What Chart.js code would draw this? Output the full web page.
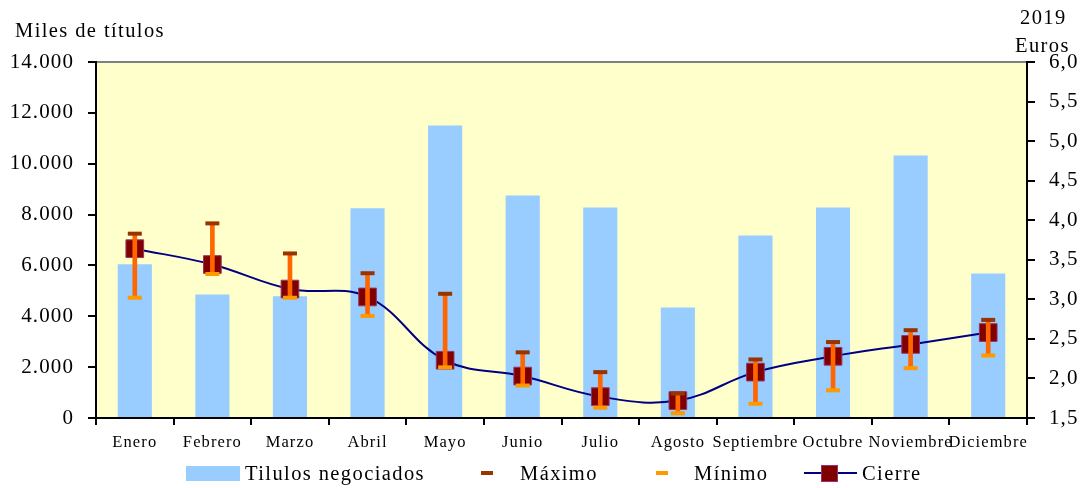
<!DOCTYPE html>
<html>
<head>
<meta charset="utf-8">
<script src="https://cdn.jsdelivr.net/npm/chart.js@4/dist/chart.umd.min.js"></script>
<style>
  html, body { margin: 0; padding: 0; background: #fff; }
  #wrap { position: relative; width: 1083px; height: 488px; }
  canvas { position: absolute; left: 0; top: 0; }
  .t { position: absolute; font-family: "Liberation Serif", "Times New Roman", serif; color: #000; font-size: 20.5px; line-height: 20px; letter-spacing: 1.4px; white-space: nowrap; }
  .sw { position: absolute; }
</style>
</head>
<body>
<div id="wrap">
  <canvas id="c" width="1083" height="488"></canvas>
  <div class="t" style="left:15px; top:20px;">Miles de títulos</div>
  <div class="t" style="left:1020px; top:7px;">2019</div>
  <div class="t" style="left:1015px; top:35px;">Euros</div>

  <div class="sw" style="left:186px; top:466px; width:54px; height:15px; background:#99CCFF;"></div>
  <div class="t" style="left:245px; top:463px;">Tilulos negociados</div>
  <div class="sw" style="left:481px; top:471px; width:12px; height:4px; background:#993300;"></div>
  <div class="t" style="left:520px; top:463px;">Máximo</div>
  <div class="sw" style="left:656px; top:471px; width:12px; height:4px; background:#FF9900;"></div>
  <div class="t" style="left:694px; top:463px;">Mínimo</div>
  <div class="sw" style="left:804px; top:472px; width:53px; height:2px; background:#000080;"></div>
  <div class="sw" style="left:821px; top:465px; width:17px; height:17px; background:#800000; border:1px solid #993366; box-sizing:border-box;"></div>
  <div class="t" style="left:862px; top:463px;">Cierre</div>
</div>
<script>
const categories = ['Enero','Febrero','Marzo','Abril','Mayo','Junio','Julio','Agosto','Septiembre','Octubre','Noviembre','Diciembre'];
const titulos = [6050, 4860, 4790, 8250, 11500, 8750, 8280, 4350, 7180, 8280, 10320, 5680];
const maximo = [3.83, 3.96, 3.58, 3.33, 3.07, 2.33, 2.08, 1.81, 2.24, 2.46, 2.61, 2.74];
const minimo = [3.02, 3.32, 3.02, 2.79, 2.14, 1.91, 1.63, 1.56, 1.68, 1.85, 2.13, 2.29];
const cierre = [3.64, 3.44, 3.13, 3.03, 2.23, 2.03, 1.77, 1.72, 2.08, 2.28, 2.43, 2.58];
const leftTicks = [0, 2000, 4000, 6000, 8000, 10000, 12000, 14000];
const rightTicks = [1.5, 2.0, 2.5, 3.0, 3.5, 4.0, 4.5, 5.0, 5.5, 6.0];

const rangos = minimo.map((m, i) => [m, maximo[i]]);

Chart.defaults.font.family = '"Liberation Serif", "Times New Roman", serif';
Chart.defaults.color = '#000';

const LS = '1.1px';
const spacing = {
  id: 'spacing',
  beforeUpdate(c) { c.ctx.letterSpacing = LS; },
  beforeLayout(c) { c.ctx.letterSpacing = LS; },
  beforeDraw(c) { c.ctx.letterSpacing = LS; }
};

const plotBg = {
  id: 'plotBg',
  beforeDraw(c) {
    const { ctx, chartArea: a } = c;
    ctx.save();
    ctx.fillStyle = '#FFFFCC';
    ctx.fillRect(a.left, a.top, a.right - a.left, a.bottom - a.top);
    ctx.strokeStyle = '#808080';
    ctx.lineWidth = 2;
    ctx.beginPath();
    ctx.moveTo(a.left, a.top);
    ctx.lineTo(a.right, a.top);
    ctx.stroke();
    ctx.restore();
  }
};

const fmtLeft = v => v === 0 ? '0' : Math.floor(v / 1000) + '.' + String(v % 1000).padStart(3, '0');
const fmtRight = v => v.toFixed(1).replace('.', ',');

new Chart(document.getElementById('c'), {
  data: {
    labels: categories,
    datasets: [
      {
        type: 'line', label: 'Máximo', data: maximo, yAxisID: 'y2', order: 0,
        showLine: false, pointStyle: 'line', pointRadius: 7, pointBorderWidth: 4,
        borderColor: '#993300', pointBorderColor: '#993300', backgroundColor: '#993300'
      },
      {
        type: 'line', label: 'Mínimo', data: minimo, yAxisID: 'y2', order: 0,
        showLine: false, pointStyle: 'line', pointRadius: 7, pointBorderWidth: 4,
        borderColor: '#FF9900', pointBorderColor: '#FF9900', backgroundColor: '#FF9900'
      },
      {
        type: 'bar', label: 'Rango', data: rangos, yAxisID: 'y2', order: 1,
        grouped: false, barThickness: 4, backgroundColor: '#FF6600', borderWidth: 0
      },
      {
        type: 'line', label: 'Cierre', data: cierre, yAxisID: 'y2', order: 2,
        borderColor: '#000080', borderWidth: 2, tension: 0.4,
        pointStyle: 'rect', pointRadius: 12.5, pointBackgroundColor: '#800000',
        pointBorderColor: '#993366', pointBorderWidth: 1
      },
      {
        type: 'bar', label: 'Tilulos negociados', data: titulos, yAxisID: 'y', order: 3,
        grouped: false, backgroundColor: '#99CCFF', borderWidth: 0,
        barPercentage: 0.44, categoryPercentage: 1
      }
    ]
  },
  options: {
    responsive: false,
    animation: false,
    layout: { padding: { top: 62, bottom: 35, left: 0, right: 0 } },
    plugins: { legend: { display: false }, tooltip: { enabled: false } },
    scales: {
      x: {
        type: 'category',
        offset: true,
        grid: { offset: true, drawOnChartArea: false, drawTicks: true, tickLength: 7, color: '#000', lineWidth: 2 },
        border: { display: true, color: '#000', width: 2 },
        ticks: { font: { size: 16.5 }, padding: 8, maxRotation: 0, autoSkip: false },
        afterFit(s) { s.height = 35; }
      },
      y: {
        position: 'left',
        min: 0, max: 14000,
        afterBuildTicks(s) { s.ticks = leftTicks.map(v => ({ value: v })); },
        ticks: { font: { size: 21 }, padding: 14, callback: fmtLeft },
        grid: { drawOnChartArea: false, drawTicks: true, tickLength: 8, color: '#000', lineWidth: 2 },
        border: { display: true, color: '#000', width: 2 },
        afterFit(s) { s.width = 96; }
      },
      y2: {
        position: 'right',
        min: 1.5, max: 6,
        afterBuildTicks(s) { s.ticks = rightTicks.map(v => ({ value: v })); },
        ticks: { font: { size: 21 }, padding: 14, callback: fmtRight },
        grid: { drawOnChartArea: false, drawTicks: true, tickLength: 8, color: '#000', lineWidth: 2 },
        border: { display: true, color: '#000', width: 2 },
        afterFit(s) { s.width = 56; }
      }
    }
  },
  plugins: [spacing, plotBg]
});
</script>
</body>
</html>
